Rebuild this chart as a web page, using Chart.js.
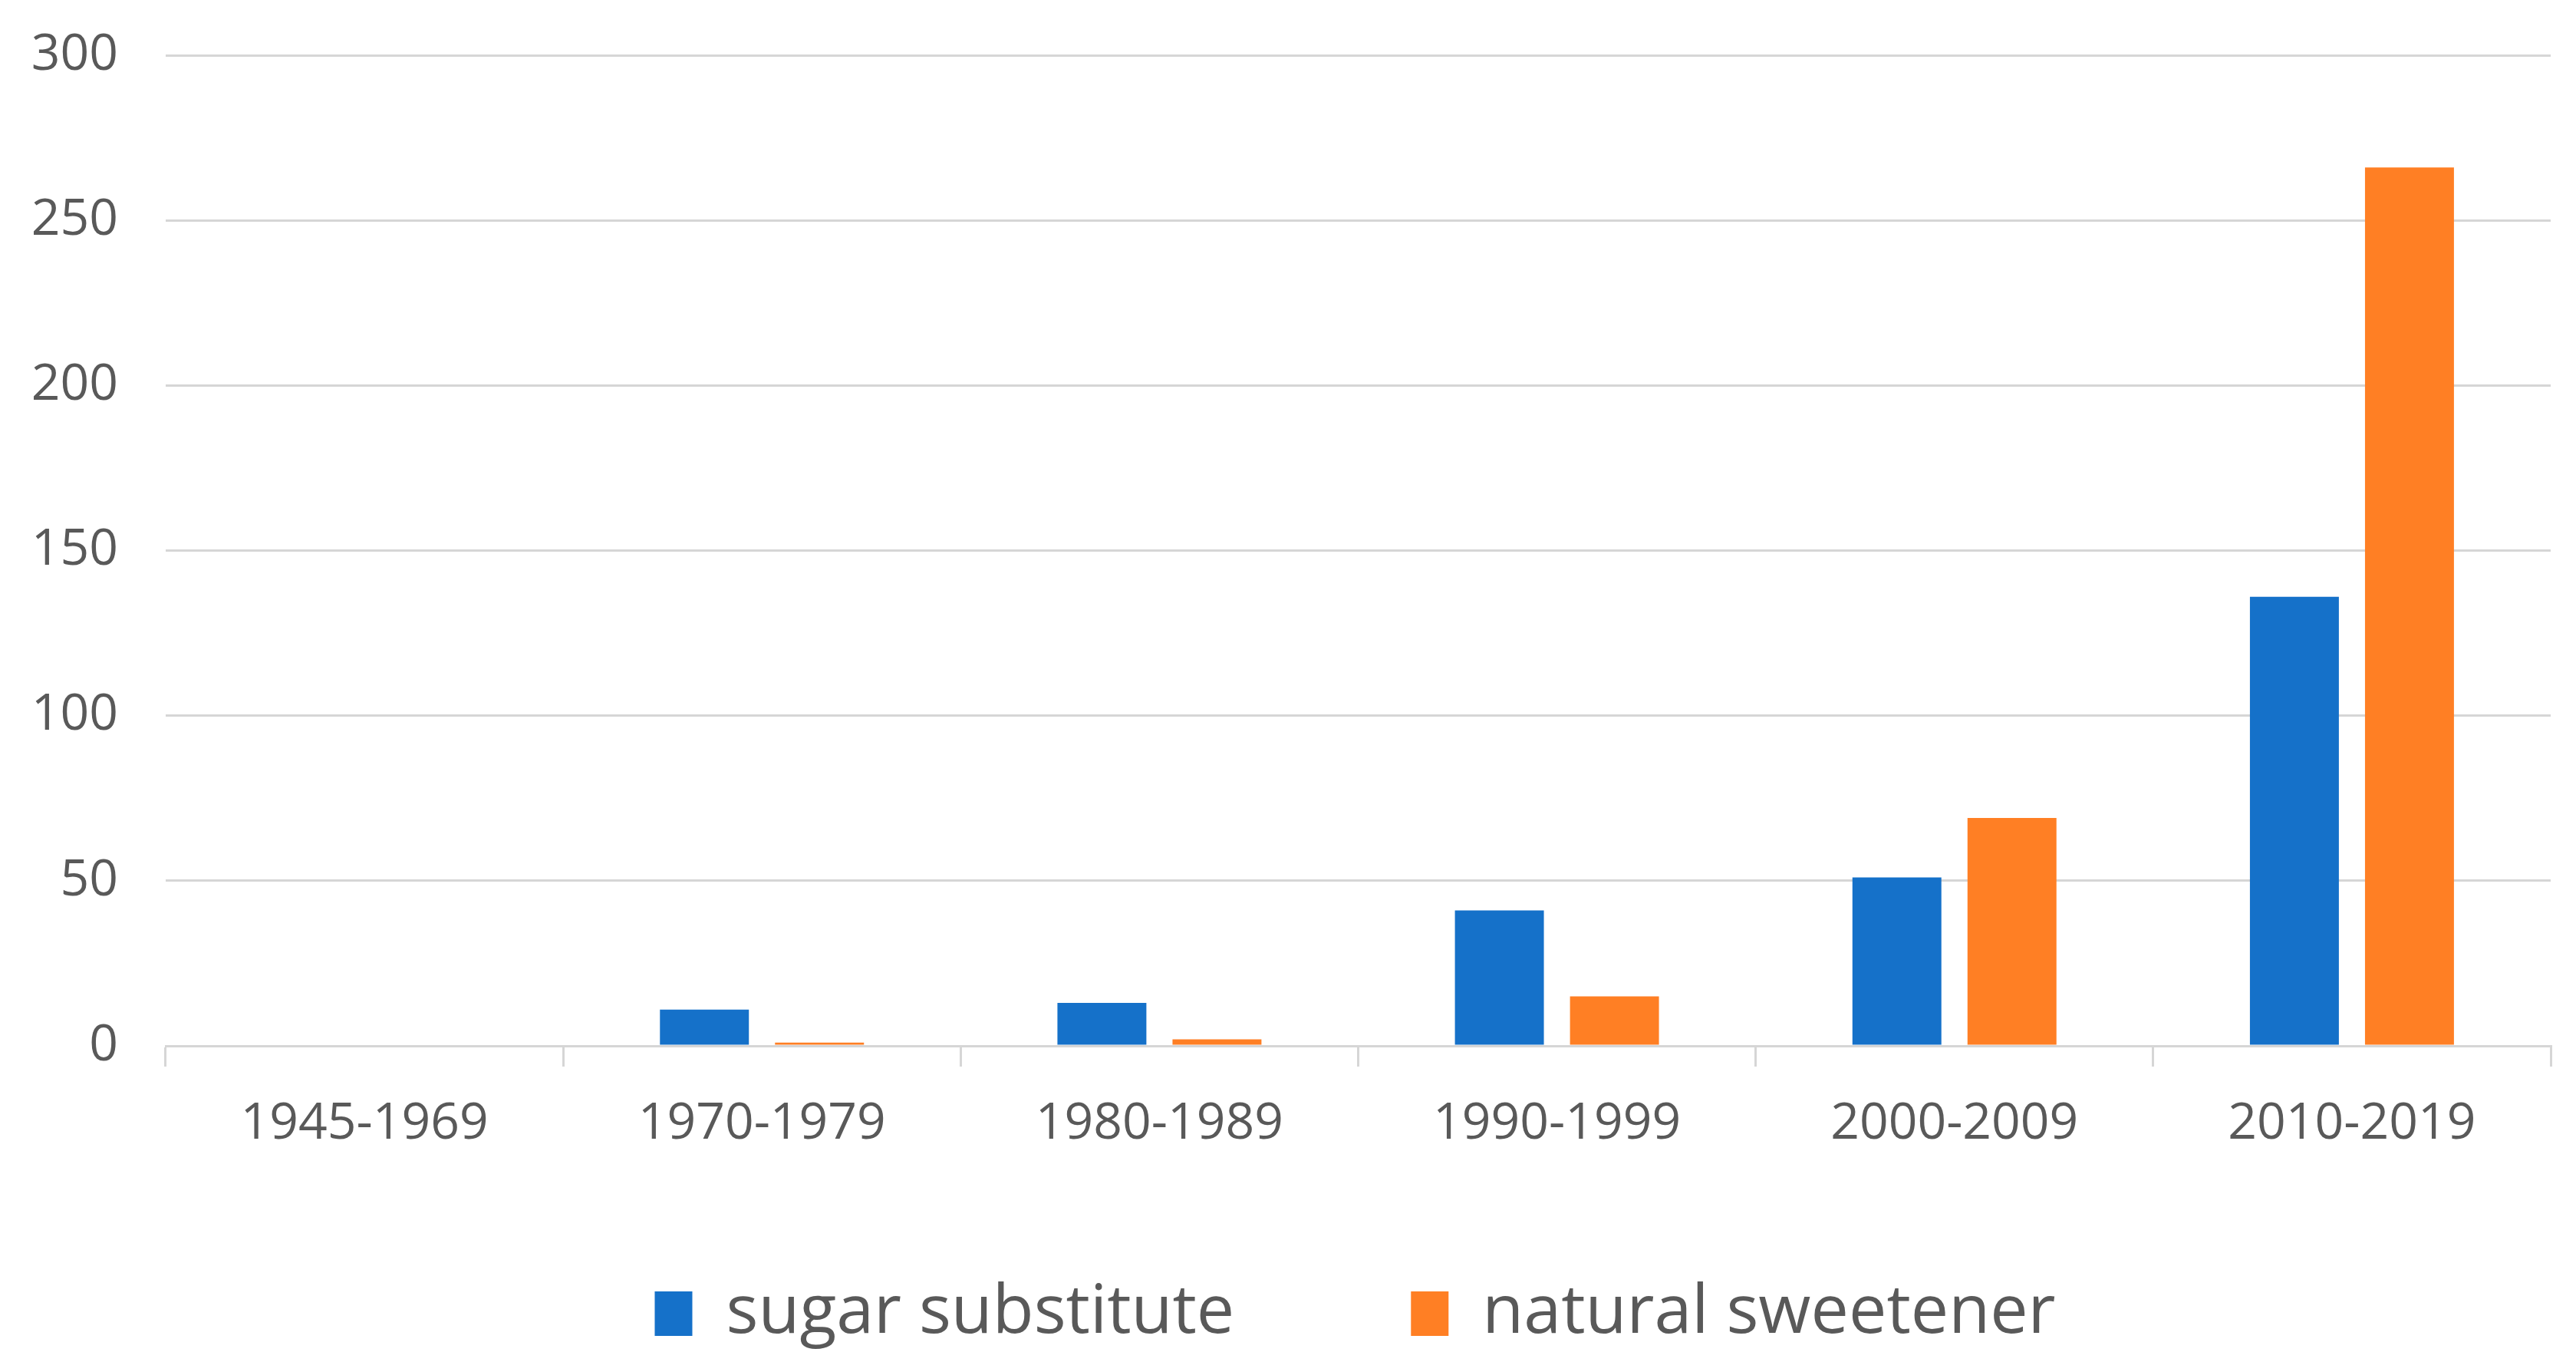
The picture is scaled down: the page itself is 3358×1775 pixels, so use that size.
<!DOCTYPE html>
<html>
<head>
<meta charset="utf-8">
<script src="https://cdn.jsdelivr.net/npm/chart.js@4/dist/chart.umd.min.js"></script>
<style>
  html, body { margin: 0; padding: 0; background: #ffffff; }
  #wrap { width: 3358px; height: 1775px; }
  canvas { display: block; }
</style>
</head>
<body>
<div id="wrap"><canvas id="c" width="3358" height="1775" style="width:3358px;height:1775px"></canvas></div>
<script>
const categories = ["1945-1969", "1970-1979", "1980-1989", "1990-1999", "2000-2009", "2010-2019"];
const sugarSubstitute = [0, 11, 13, 41, 51, 136];
const naturalSweetener = [0, 1, 2, 15, 69, 266];
const seriesNames = ["sugar substitute", "natural sweetener"];
const yTicks = [0, 50, 100, 150, 200, 250, 300];

const textColor = "#595959";
const gridColor = "#d6d6d6";
const fontFamily = "'Open Sans', 'Noto Sans', sans-serif";

// Place the legend row below the category labels (keeps the wide item spacing of the original)
const legendPlacement = {
  id: "legendPlacement",
  afterLayout(chart) {
    const lg = chart.legend;
    if (!lg) return;
    lg.top = chart.chartArea.bottom + 75;
    lg.bottom = chart.height;
    lg.height = lg.bottom - lg.top;
    lg.left -= 4;
    lg.right -= 4;
  }
};

new Chart(document.getElementById("c"), {
  type: "bar",
  data: {
    labels: categories,
    datasets: [
      { label: seriesNames[0], data: sugarSubstitute, backgroundColor: "#1571c9", borderWidth: 0 },
      { label: seriesNames[1], data: naturalSweetener, backgroundColor: "#ff7f24", borderWidth: 0 }
    ]
  },
  plugins: [legendPlacement],
  options: {
    responsive: false,
    animation: false,
    devicePixelRatio: 1,
    categoryPercentage: 0.579,
    barPercentage: 0.773,
    layout: { padding: { top: 72, right: 33, bottom: 70, left: 0 } },
    plugins: {
      tooltip: { enabled: false },
      legend: {
        position: "bottom",
        fullSize: false,
        maxHeight: 200,
        labels: {
          color: textColor,
          font: { family: fontFamily, size: 88 },
          boxWidth: 49,
          boxHeight: 58,
          padding: 230
        }
      }
    },
    scales: {
      x: {
        grid: { drawOnChartArea: false, drawTicks: true, tickLength: 27, color: gridColor, lineWidth: 3, offset: true },
        border: { display: true, color: gridColor, width: 3 },
        ticks: { color: textColor, font: { family: fontFamily, size: 66 }, padding: 36, maxRotation: 0, autoSkip: false },
        afterFit: (scale) => { scale.height = 142; scale.paddingLeft = 0; scale.paddingRight = 0; }
      },
      y: {
        min: 0,
        max: 300,
        afterBuildTicks: (scale) => { scale.ticks = yTicks.map(v => ({ value: v })); },
        afterFit: (scale) => { scale.width = 216; scale.paddingTop = 0; scale.paddingBottom = 0; },
        grid: { drawTicks: false, color: gridColor, lineWidth: 3 },
        border: { display: false },
        ticks: { color: textColor, font: { family: fontFamily, size: 66 }, padding: 62 }
      }
    }
  }
});
</script>
</body>
</html>
